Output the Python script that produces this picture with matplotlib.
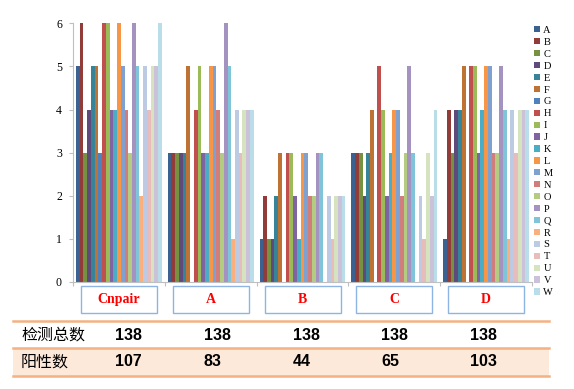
import numpy as np
import matplotlib
matplotlib.use("agg")
import matplotlib.pyplot as plt
from matplotlib.patches import Rectangle
from matplotlib.lines import Line2D
import matplotlib.transforms as mtransforms

groups = ["Cnpair", "A", "B", "C", "D"]
series = list("ABCDEFGHIJKLMNOPQRSTUVW")

# one list per group, 23 values (series A..W)
cnpair = [5, 6, 3, 4, 5, 5, 3, 6, 6, 4, 4, 6, 5, 4, 3, 6, 5, 2, 5, 4, 5, 5, 6]
grp_a = [3, 3, 3, 3, 3, 5, 0, 4, 5, 3, 3, 5, 5, 4, 3, 6, 5, 1, 4, 3, 4, 4, 4]
grp_b = [1, 2, 1, 1, 2, 3, 0, 3, 3, 2, 1, 3, 3, 2, 2, 3, 3, 0, 2, 1, 2, 2, 2]
grp_c = [3, 3, 3, 2, 3, 4, 0, 5, 4, 2, 3, 4, 4, 2, 3, 5, 3, 0, 2, 1, 3, 2, 4]
grp_d = [1, 4, 3, 4, 4, 5, 0, 5, 5, 3, 4, 5, 5, 3, 3, 5, 4, 1, 4, 3, 4, 4, 4]

row_labels = ["检测总数", "阳性数"]
total = [138, 138, 138, 138, 138]
positive = [107, 83, 44, 65, 103]

colors = ["#3A6190", "#923C39", "#76913F", "#5F4A7C", "#378397", "#BE7234",
          "#4F81BD", "#C0504D", "#9BBB59", "#8064A2", "#4BACC6", "#F79646",
          "#7FA1D0", "#D17D7B", "#B3CC82", "#A492C0", "#7FC4D8", "#F9B07E",
          "#BDCAE4", "#E7BCBB", "#D5E3BE", "#CBC2DA", "#B9DEE9"]

data = np.array([cnpair, grp_a, grp_b, grp_c, grp_d])

fig = plt.figure(figsize=(5.74, 3.89), dpi=100)
ax = fig.add_axes([73 / 574, 1 - 282 / 389, 459 / 574, (282 - 23.3) / 389])

x = np.arange(len(groups))
w = 0.0407
gap = 1 - len(series) * w
handles = []
for j, name in enumerate(series):
    b = ax.bar(x - 0.5 + gap / 2 + (j + 0.5) * w, data[:, j], width=w,
               color=colors[j], label=name, linewidth=0)
    handles.append(b)

ax.set_xlim(-0.5, len(groups) - 0.5)
ax.set_ylim(0, 6)
ax.set_yticks(range(7))
ax.set_xticks(np.arange(len(groups) + 1) - 0.5)
ax.set_xticklabels([])
for s in ["top", "right"]:
    ax.spines[s].set_visible(False)
for s in ["left", "bottom"]:
    ax.spines[s].set_color("#BFBFBF")
ax.tick_params(axis="y", colors="#BFBFBF", length=3, pad=5, labelcolor="black",
               labelsize=8.5)
ax.tick_params(axis="x", colors="#BFBFBF", length=3)
for lab in ax.get_yticklabels():
    lab.set_family("Liberation Serif")

leg = ax.legend(handles=handles, loc="upper left",
                bbox_to_anchor=(534 / 574, 1 - 26 / 389),
                bbox_transform=fig.transFigure, frameon=False,
                prop={"family": "Liberation Serif", "size": 7.5},
                handlelength=0.55, handleheight=0.55, handletextpad=0.35,
                labelspacing=0.28, borderpad=0, borderaxespad=0)

# category boxes under the axis
trans = mtransforms.blended_transform_factory(ax.transData, ax.transAxes)
bw = 76 / 91.8
ph = 282 - 23.3
for i, g in enumerate(groups):
    ax.add_patch(Rectangle((i - bw / 2, -(313 - 282) / ph), bw, 27 / ph,
                           transform=trans, clip_on=False, facecolor="white",
                           edgecolor="#8EB4E3", linewidth=1))
    ax.text(i, -(299.5 - 282) / ph, g, transform=trans, ha="center",
            va="center", color="red", fontsize=10, fontweight="bold",
            family="Liberation Serif")

# table below
def fy(py):
    return 1 - py / 389

fig.patches.append(Rectangle((13 / 574, fy(375.7)), (549 - 13) / 574,
                             fy(348) - fy(375.7), transform=fig.transFigure,
                             facecolor="#FDE9D9", edgecolor="none"))
for py in [320.7, 348, 375.7]:
    fig.lines.append(Line2D([13 / 574, 549 / 574], [fy(py), fy(py)],
                            transform=fig.transFigure, color="#F4B183", lw=1.8))

row_y = [335, 362]
for r, (lab, vals) in enumerate(zip(row_labels, [total, positive])):
    fig.text(21 / 574, fy(row_y[r]), lab, ha="left", va="center",
             fontsize=11.5, family=["Noto Sans CJK SC", "DejaVu Sans"])
    for i, v in enumerate(vals):
        fig.text((115 + i * 88.8) / 574, fy(row_y[r]), str(v), ha="left",
                 va="center", fontsize=11.5, fontweight="bold",
                 family="Liberation Sans")

fig.savefig("out.png", dpi=100)
